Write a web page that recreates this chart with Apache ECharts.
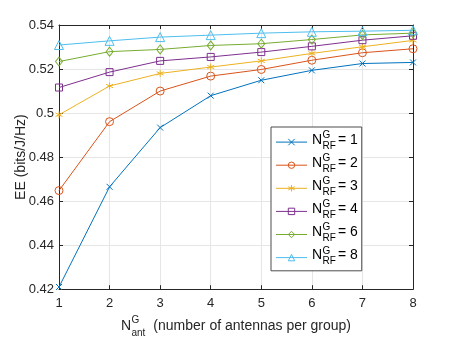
<!DOCTYPE html>
<html>
<head>
<meta charset="utf-8">
<script src="https://cdn.jsdelivr.net/npm/echarts@6/dist/echarts.min.js"></script>
<style>
  html, body { margin: 0; padding: 0; background: #fff; }
  #chart { width: 457px; height: 343px; }
</style>
</head>
<body>
<div id="chart"></div>
<script>
// number of antennas per group (x axis)
var antennas = [1, 2, 3, 4, 5, 6, 7, 8];
// N_RF^G values, one curve each
var rfChains = [1, 2, 3, 4, 6, 8];

// EE values
var ee1 = [0.4210, 0.4665, 0.4934, 0.5079, 0.5149, 0.5194, 0.5225, 0.5230];
var ee2 = [0.4648, 0.4961, 0.5100, 0.5168, 0.5198, 0.5240, 0.5274, 0.5292];
var ee3 = [0.4992, 0.5123, 0.5180, 0.5209, 0.5237, 0.5271, 0.5301, 0.5330];
var ee4 = [0.5116, 0.5186, 0.5237, 0.5255, 0.5277, 0.5303, 0.5331, 0.5351];
var ee6 = [0.5234, 0.5279, 0.5289, 0.5307, 0.5315, 0.5334, 0.5355, 0.5363];
var ee8 = [0.5309, 0.5328, 0.5345, 0.5354, 0.5363, 0.5369, 0.5372, 0.5376];
var eeValues = [ee1, ee2, ee3, ee4, ee6, ee8];

var yTicks = [0.42, 0.44, 0.46, 0.48, 0.5, 0.52, 0.54];

var lineColors = ['#0072BD', '#D95319', '#EDB120', '#7E2F8E', '#77AC30', '#4DBEEE'];
var markers = [
    'path://M0,0L10,10M0,10L10,0',
    'circle',
    'path://M5,0L5,10M0.67,2.5L9.33,7.5M0.67,7.5L9.33,2.5',
    'rect',
    'diamond',
    'triangle'
];
var markerSizes = [6, 8, 7, 7, [7, 9], 9];

var fontName = 'Liberation Sans';
var axisColor = '#262626';

function makeSeries(i)
{
    var pts = [];
    for (var k = 0; k < antennas.length; k++) {
        pts.push([antennas[k], eeValues[i][k]]);
    }
    return {
        name: 'rf' + rfChains[i],
        type: 'line',
        data: pts,
        symbol: markers[i],
        symbolSize: markerSizes[i],
        showAllSymbol: true,
        lineStyle: {color: lineColors[i], width: 1},
        itemStyle: {color: 'transparent', borderColor: lineColors[i], borderWidth: 1},
        emphasis: {disabled: true},
        z: 3 + i
    };
}

var seriesList = [];
var legendItems = [];
for (var i = 0; i < rfChains.length; i++) {
    seriesList.push(makeSeries(i));
    legendItems.push({
        name: 'rf' + rfChains[i],
        itemStyle: {color: 'transparent', borderColor: lineColors[i], borderWidth: 1},
        lineStyle: {color: lineColors[i], width: 1}
    });
}

// super/subscript pieces: every piece is top aligned with zero height,
// its padding top then gives where its centre sits in the line
function piece(size, color, padTop, padLeft, lh)
{
    return {
        fontSize: size, fontFamily: fontName, color: color,
        height: 0, lineHeight: lh, verticalAlign: 'top', align: 'left',
        padding: [padTop, 0, 0, padLeft]
    };
}

var legendRich = {
    n: piece(14, '#000', 7, 0, 10),
    g: piece(10, '#000', 2.2, 0.5, 10),
    e: piece(14, '#000', 7, 7.5, 10),
    r: piece(10, '#000', 3, 10.5, 8)
};

var xNameRich = {
    n: piece(14, axisColor, 12.5, 0, 12),
    g: piece(10, axisColor, 6.8, 0.5, 12),
    t: piece(14, axisColor, 12.5, 14, 12),
    a: piece(10, axisColor, 7.8, 10.5, 6)
};

var option = {
    animation: false,
    textStyle: {fontFamily: fontName},
    grid: {left: 59, right: 44, top: 25, bottom: 51},
    legend: {
        orient: 'vertical',
        left: 271,
        top: 127,
        padding: [3.3, 4, 4.2, 4.5],
        itemWidth: 31,
        itemHeight: 8,
        itemGap: 2.3,
        backgroundColor: '#fff',
        borderColor: '#4d4d4d',
        borderWidth: 1,
        borderRadius: 0,
        data: legendItems,
        formatter: function (name) {
            return '{n|N}{g|G}{e|= ' + name.substring(2) + '}\n{r|RF}';
        },
        textStyle: {rich: legendRich}
    },
    xAxis: [{
        type: 'value',
        min: 1,
        max: 8,
        interval: 1,
        name: '{n|N}{g|G}{t|(number of antennas per group)}\n{a|ant}',
        nameLocation: 'middle',
        nameGap: 24,
        nameMoveOverlap: false,
        nameTextStyle: {rich: xNameRich},
        axisLine: {lineStyle: {color: axisColor, width: 1}},
        axisTick: {inside: true, length: 4, lineStyle: {color: axisColor}},
        axisLabel: {color: axisColor, fontSize: 13, fontFamily: fontName, margin: 8},
        splitLine: {show: true, lineStyle: {color: '#e6e6e6', width: 1}}
    }, {
        type: 'value',
        position: 'top',
        min: 1,
        max: 8,
        interval: 1,
        axisLine: {show: true, lineStyle: {color: axisColor, width: 1}},
        axisTick: {inside: true, length: 4, lineStyle: {color: axisColor}},
        axisLabel: {show: false},
        splitLine: {show: false}
    }],
    yAxis: [{
        type: 'value',
        min: yTicks[0],
        max: yTicks[yTicks.length - 1],
        interval: 0.02,
        name: 'EE (bits/J/Hz)',
        nameLocation: 'middle',
        nameGap: 31,
        nameMoveOverlap: false,
        nameTextStyle: {fontSize: 14, fontFamily: fontName, color: axisColor},
        axisLine: {show: true, lineStyle: {color: axisColor, width: 1}},
        axisTick: {show: true, inside: true, length: 4, lineStyle: {color: axisColor}},
        axisLabel: {
            color: axisColor, fontSize: 13, fontFamily: fontName, margin: 5,
            formatter: function (v) { return String(Math.round(v * 100) / 100); }
        },
        splitLine: {show: true, lineStyle: {color: '#e6e6e6', width: 1}}
    }, {
        type: 'value',
        position: 'right',
        min: yTicks[0],
        max: yTicks[yTicks.length - 1],
        interval: 0.02,
        axisLine: {show: true, lineStyle: {color: axisColor, width: 1}},
        axisTick: {show: true, inside: true, length: 4, lineStyle: {color: axisColor}},
        axisLabel: {show: false},
        splitLine: {show: false}
    }],
    series: seriesList
};

var chart = echarts.init(document.getElementById('chart'), null, {renderer: 'canvas'});
chart.setOption(option, true);

window.addEventListener('resize', function () {
    chart.resize();
});
</script>
</body>
</html>
